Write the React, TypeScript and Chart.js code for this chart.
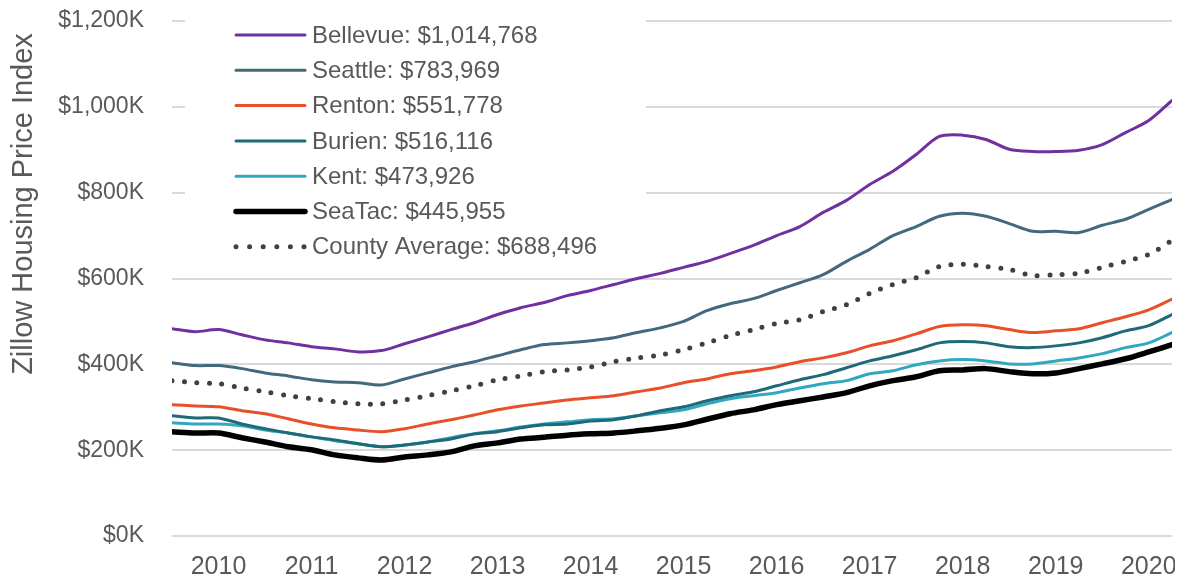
import React, { useEffect, useRef } from 'react';
import { Chart, registerables } from 'chart.js';

Chart.register(...registerables);

const FONT = "'Liberation Sans', Arial, sans-serif";
const TEXT = '#595959';

// Quarterly observations (year-month)
const periods = [
  '2009-07', '2009-10',
  '2010-01', '2010-04', '2010-07', '2010-10',
  '2011-01', '2011-04', '2011-07', '2011-10',
  '2012-01', '2012-04', '2012-07', '2012-10',
  '2013-01', '2013-04', '2013-07', '2013-10',
  '2014-01', '2014-04', '2014-07', '2014-10',
  '2015-01', '2015-04', '2015-07', '2015-10',
  '2016-01', '2016-04', '2016-07', '2016-10',
  '2017-01', '2017-04', '2017-07', '2017-10',
  '2018-01', '2018-04', '2018-07', '2018-10',
  '2019-01', '2019-04', '2019-07', '2019-10',
  '2020-01', '2020-04',
];

const yearTicks = [2010, 2011, 2012, 2013, 2014, 2015, 2016, 2017, 2018, 2019, 2020];
const valueTicks = [0, 200, 400, 600, 800, 1000, 1200];

// Zillow Housing Price Index, thousands of dollars
const bellevue = [483, 476, 481, 469, 457, 450, 441, 436, 429, 432, 448, 464, 481, 497, 516, 532, 544, 560, 572, 586, 600, 612, 626, 640, 658, 677, 700, 721, 754, 782, 819, 850, 889, 931, 934, 924, 901, 896, 896, 899, 912, 940, 968, 1014.768];
const seattle = [404, 397, 397, 390, 380, 373, 364, 359, 357, 352, 366, 380, 394, 406, 420, 434, 446, 450, 455, 462, 474, 485, 500, 525, 541, 553, 572, 590, 609, 640, 668, 700, 721, 745, 752, 745, 728, 710, 710, 707, 724, 738, 761, 783.969];
const renton = [306, 303, 301, 292, 285, 273, 261, 252, 247, 243, 250, 261, 271, 282, 294, 303, 310, 317, 322, 327, 336, 345, 357, 366, 378, 385, 394, 406, 415, 427, 443, 455, 471, 488, 492, 490, 481, 474, 478, 483, 497, 511, 527, 551.778];
const burien = [280, 275, 275, 261, 250, 240, 231, 224, 215, 208, 212, 219, 226, 238, 243, 252, 259, 261, 268, 271, 280, 292, 301, 315, 327, 336, 350, 364, 376, 392, 408, 420, 434, 450, 453, 450, 441, 439, 443, 450, 462, 478, 490, 516.116];
const kent = [264, 261, 261, 257, 247, 240, 231, 222, 215, 208, 212, 219, 229, 238, 245, 254, 261, 266, 271, 273, 280, 287, 294, 308, 320, 327, 334, 345, 355, 362, 378, 385, 399, 408, 411, 408, 401, 401, 408, 415, 425, 439, 450, 473.926];
const seatac = [243, 240, 240, 229, 219, 208, 201, 189, 182, 177, 184, 189, 196, 210, 217, 226, 230, 235, 238, 240, 245, 251, 259, 272, 285, 294, 306, 315, 324, 334, 350, 362, 371, 385, 387, 390, 383, 378, 380, 390, 401, 413, 429, 445.955];
const county = [362, 357, 355, 345, 336, 327, 320, 313, 308, 308, 317, 327, 338, 350, 364, 373, 383, 387, 394, 406, 415, 422, 434, 450, 467, 481, 495, 504, 523, 539, 565, 586, 602, 628, 633, 628, 621, 607, 609, 612, 626, 640, 656, 688.496];

const seriesLabels = [
  'Bellevue: $1,014,768',
  'Seattle: $783,969',
  'Renton: $551,778',
  'Burien: $516,116',
  'Kent: $473,926',
  'SeaTac: $445,955',
  'County Average: $688,496',
];

const yTitle = 'Zillow Housing Price Index';

function toYear(p: string): number {
  const [y, m] = p.split('-').map(Number);
  return y + (m - 1) / 12;
}

function points(values: number[]) {
  return values.map((v, i) => ({ x: toYear(periods[i]), y: v }));
}

const insetLegend = {
  id: 'insetLegend',
  afterDatasetsDraw(chart: any) {
    const ctx = chart.ctx as CanvasRenderingContext2D;
    ctx.save();
    ctx.fillStyle = '#ffffff';
    ctx.fillRect(177, 0, 461, 257);
    chart.data.datasets.forEach((ds: any, i: number) => {
      const y = 27 + i * 35.3;
      ctx.beginPath();
      ctx.strokeStyle = ds.borderColor;
      ctx.lineWidth = ds.borderWidth;
      ctx.lineCap = 'round';
      if (ds.borderDash && ds.borderDash.length) {
        ctx.setLineDash([0, 13.6]);
      } else {
        ctx.setLineDash([]);
      }
      ctx.moveTo(228, y);
      ctx.lineTo(297, y);
      ctx.stroke();
      ctx.setLineDash([]);
      ctx.fillStyle = TEXT;
      ctx.font = `24px ${FONT}`;
      ctx.textAlign = 'left';
      ctx.textBaseline = 'middle';
      ctx.fillText(ds.label, 304, y + 1);
    });
    ctx.restore();
  },
};

const axisTitle = {
  id: 'axisTitle',
  afterDraw(chart: any) {
    const ctx = chart.ctx as CanvasRenderingContext2D;
    ctx.save();
    ctx.translate(24, 196);
    ctx.rotate(-Math.PI / 2);
    ctx.font = `29px ${FONT}`;
    ctx.fillStyle = TEXT;
    ctx.textAlign = 'center';
    ctx.textBaseline = 'alphabetic';
    ctx.fillText(yTitle, 0, 0);
    ctx.restore();
  },
};

export default function App() {
  const ref = useRef<HTMLCanvasElement>(null);

  useEffect(() => {
    if (!ref.current) return;
    const line = (label: string, data: number[], color: string, width: number, dashed = false) => ({
      label,
      data: points(data),
      borderColor: color,
      backgroundColor: color,
      borderWidth: width,
      borderDash: dashed ? [0, 12.5] : [],
      borderCapStyle: 'round' as const,
      borderJoinStyle: 'round' as const,
      pointRadius: 0,
      tension: 0.3,
      fill: false,
    });

    const chart = new Chart(ref.current, {
      type: 'line',
      data: {
        datasets: [
          line(seriesLabels[0], bellevue, '#7030A0', 3),
          line(seriesLabels[1], seattle, '#44697E', 3),
          line(seriesLabels[2], renton, '#E8502B', 3),
          line(seriesLabels[3], burien, '#1E6A78', 3),
          line(seriesLabels[4], kent, '#31A7C0', 3),
          line(seriesLabels[5], seatac, '#000000', 5.5),
          line(seriesLabels[6], county, '#404040', 5, true),
        ],
      },
      options: {
        animation: false,
        responsive: true,
        maintainAspectRatio: false,
        layout: { padding: { left: 0, right: 3, top: 13, bottom: 0 } },
        plugins: {
          legend: { display: false },
          tooltip: { enabled: false },
          title: { display: false },
        },
        scales: {
          x: {
            type: 'linear',
            min: toYear(periods[0]),
            max: toYear(periods[periods.length - 1]),
            grid: { display: false, drawTicks: false },
            border: { display: false },
            afterBuildTicks: (s: any) => {
              s.ticks = yearTicks.map((v) => ({ value: v }));
            },
            afterFit: (s: any) => {
              s.height = 47;
              s.paddingLeft = 0;
              s.paddingRight = 0;
            },
            ticks: {
              autoSkip: false,
              maxRotation: 0,
              padding: 16,
              color: TEXT,
              font: { family: FONT, size: 25 },
              callback: (v: any) => String(v),
            },
          },
          y: {
            type: 'linear',
            min: 0,
            max: 1200,
            grid: { color: '#d9d9d9', lineWidth: 2, drawTicks: false },
            border: { display: false },
            afterBuildTicks: (s: any) => {
              s.ticks = valueTicks.map((v) => ({ value: v }));
            },
            afterFit: (s: any) => {
              s.width = 164;
              s.paddingTop = 0;
              s.paddingBottom = 0;
            },
            ticks: {
              padding: 28,
              color: TEXT,
              font: { family: FONT, size: 23 },
              callback: (v: any) => '$' + Number(v).toLocaleString('en-US') + 'K',
            },
          },
        },
      },
      plugins: [insetLegend, axisTitle],
    });
    return () => chart.destroy();
  }, []);

  return (
    <div style={{ position: 'relative', width: '100%', height: '575px', marginBottom: '-8px' }}>
      <canvas ref={ref} />
    </div>
  );
}
